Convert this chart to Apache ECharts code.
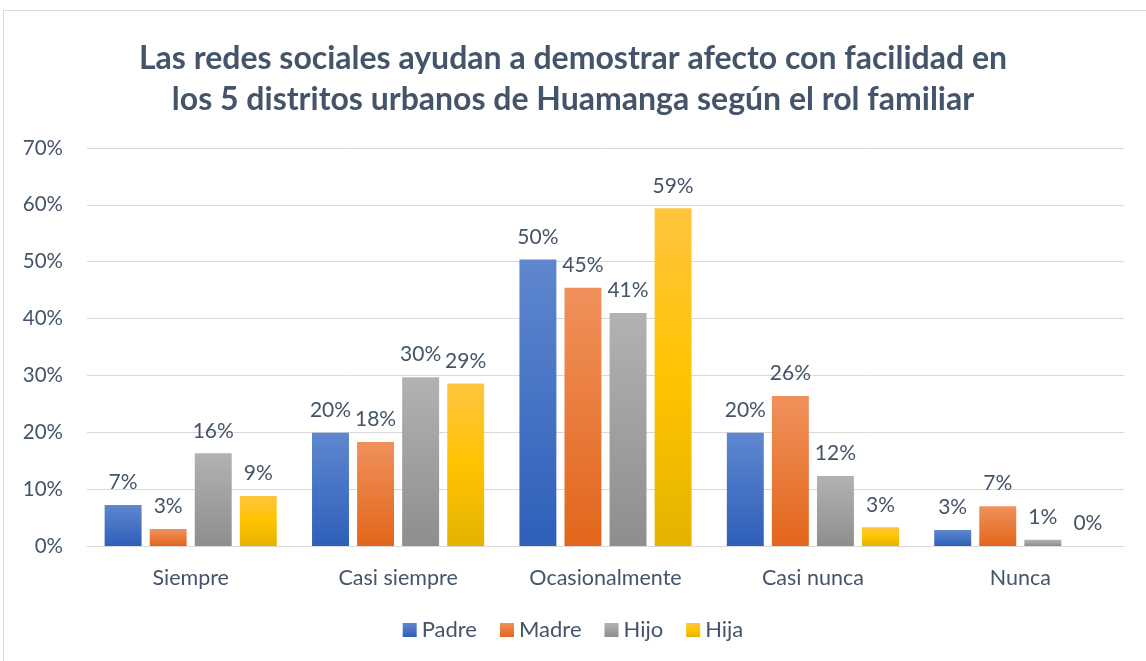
<!DOCTYPE html>
<html><head><meta charset="utf-8">
<script src="https://cdn.jsdelivr.net/npm/echarts@6/dist/echarts.min.js"></script>
<style>html,body{margin:0;padding:0;background:#fff}#c{width:1146px;height:661px}</style>
</head><body><div id="c"></div>
<script>
const categories = ['Siempre', 'Casi siempre', 'Ocasionalmente', 'Casi nunca', 'Nunca'];
const padre = [7.2, 19.9, 50.4, 19.9, 2.8];
const madre = [3.0, 18.3, 45.4, 26.4, 7.0];
const hijo = [16.3, 29.7, 41.0, 12.3, 1.1];
const hija = [8.8, 28.6, 59.4, 3.3, 0.0];
const seriesNames = ['Padre', 'Madre', 'Hijo', 'Hija'];
const yTicks = [0, 10, 20, 30, 40, 50, 60, 70];

const FONT = 'Lato';
const TXT = '#44546a';
const grads = [
  ['#5f87cf', '#2e5fb9'],
  ['#f0915c', '#e2661b'],
  ['#b2b2b2', '#8e8e8e'],
  ['#ffc53f', '#e4b300']
];
function grad(i) {
  const stops = i === 3
    ? [{offset: 0, color: grads[i][0]}, {offset: 0.5, color: '#ffc400'}, {offset: 1, color: grads[i][1]}]
    : [{offset: 0, color: grads[i][0]}, {offset: 1, color: grads[i][1]}];
  return new echarts.graphic.LinearGradient(0, 0, 0, 1, stops);
}
const data = [padre, madre, hijo, hija];
const chart = echarts.init(document.getElementById('c'), null, {renderer: 'canvas'});
chart.setOption({
  animation: false,
  backgroundColor: '#fff',
  graphic: [{type: 'rect', shape: {x: 3.5, y: 10.5, width: 1150, height: 660}, style: {fill: 'none', stroke: '#d9d9d9', lineWidth: 1}, silent: true}],
  title: {
    text: 'Las redes sociales ayudan a demostrar afecto con facilidad en\nlos 5 distritos urbanos de Huamanga según el rol familiar',
    left: 'center', top: 33,
    textStyle: {fontFamily: FONT, fontWeight: 'bold', fontSize: 32, color: TXT, lineHeight: 41}
  },
  legend: {
    bottom: 15, left: 'center', itemWidth: 14, itemHeight: 14, itemGap: 23,
    icon: 'rect',
    textStyle: {fontFamily: FONT, fontSize: 22, color: TXT, padding: [0, 0, 0, 0]},
    data: seriesNames.map((n, i) => ({name: n, itemStyle: {color: grad(i)}}))
  },
  grid: {left: 87, right: 22, top: 148, bottom: 115, containLabel: false},
  xAxis: {
    type: 'category', data: categories,
    axisLine: {show: true, lineStyle: {color: '#d9d9d9', width: 1}},
    axisTick: {show: false},
    axisLabel: {fontFamily: FONT, fontSize: 21.5, color: TXT, margin: 21}
  },
  yAxis: {
    type: 'value', min: 0, max: 70, interval: 10,
    axisLine: {show: false}, axisTick: {show: false},
    splitLine: {lineStyle: {color: '#d9d9d9', width: 1}},
    axisLabel: {fontFamily: FONT, fontSize: 20.5, color: TXT, margin: 24, formatter: v => yTicks.includes(v) ? v + '%' : ''}
  },
  series: seriesNames.map((n, i) => ({
    name: n, type: 'bar', data: data[i],
    barGap: '22%', barCategoryGap: '17%',
    itemStyle: {color: grad(i)},
    label: {show: true, position: 'top', distance: 12, fontFamily: FONT, fontSize: 21, color: TXT,
      formatter: p => Math.round(p.value) + '%'}
  }))
});
</script></body></html>
